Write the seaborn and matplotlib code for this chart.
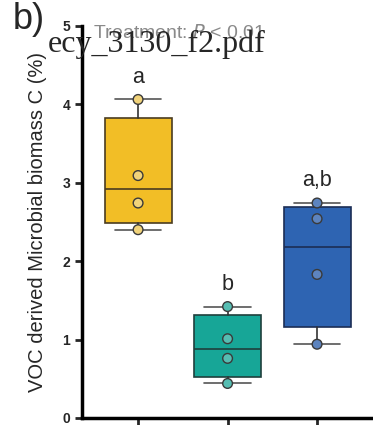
import numpy as np
import pandas as pd
import seaborn as sns
import matplotlib.pyplot as plt

# values (4 replicates per treatment)
groups = ['T1', 'T2', 'T3']
vals_t1 = [4.06, 3.09, 2.74, 2.40]
vals_t2 = [1.42, 1.01, 0.76, 0.44]
vals_t3 = [2.74, 2.54, 1.83, 0.94]
letters = ['a', 'b', 'a,b']
box_colors = ['#F2BE26', '#17A697', '#2E64B2']
point_colors = ['#F1D37A', '#56BDB2', '#5D84BF']
edge_colors = ['#4a3c20', '#1f3f3c', '#1b2d55']

sns.set_style('ticks')
plt.rcParams['font.family'] = ['Liberation Sans', 'DejaVu Sans']

df = pd.DataFrame({
    'group': np.repeat(groups, 4),
    'value': vals_t1 + vals_t2 + vals_t3,
})

fig = plt.figure(figsize=(3.73, 4.25), dpi=100)
ax = fig.add_axes([0.22, 0.0165, 0.78, 0.923])

# box stats with the (n+1)p quartile method, whiskers min to max
stats = []
for g, vals in zip(groups, [vals_t1, vals_t2, vals_t3]):
    q1, q3 = np.percentile(vals, [25, 75], method='weibull')
    stats.append({'med': np.median(vals), 'q1': q1, 'q3': q3,
                  'whislo': min(vals), 'whishi': max(vals), 'label': g})

bp = ax.bxp(stats, positions=[0, 1, 2], widths=0.75, capwidths=0.52,
            patch_artist=True, showfliers=False,
            medianprops=dict(color='#222', linewidth=1.2),
            whiskerprops=dict(color='#333', linewidth=1.2),
            capprops=dict(color='#555', linewidth=1.2))
for patch, c, ec in zip(bp['boxes'], box_colors, edge_colors):
    patch.set_facecolor(c)
    patch.set_edgecolor(ec)
    patch.set_linewidth(1.2)
for line, ec in zip(bp['medians'], edge_colors):
    line.set_color(ec)

sns.stripplot(data=df, x='group', y='value', hue='group', palette=point_colors,
              jitter=False, size=7, linewidth=1, edgecolor='#3a3a3a',
              legend=False, zorder=3, ax=ax)

for i, vals in enumerate([vals_t1, vals_t2, vals_t3]):
    ax.text(i, max(vals) + 0.15, letters[i], ha='center', va='bottom', fontsize=15.5)

ax.set_xlim(-0.626, 2.625)
ax.set_ylim(0, 5)
ax.set_yticks([0, 1, 2, 3, 4, 5])
ax.set_yticklabels(['0', '1', '2', '3', '4', '5'], fontweight='bold', fontsize=10)
ax.set_xticks([0, 1, 2])
ax.set_xticklabels(['', '', ''])
ax.set_xlabel('')
ax.set_ylabel('VOC derived Microbial biomass C (%)', fontsize=14.5, labelpad=11)
ax.tick_params(axis='both', length=5, width=2)
for s in ['left', 'bottom']:
    ax.spines[s].set_linewidth(2.5)
    ax.spines[s].set_color('black')
sns.despine(ax=ax)

fig.text(0.035, 0.995, 'b)', fontsize=26, va='top', ha='left')
fig.text(0.25, 0.922, 'Treatment: $P$ < 0.01', fontsize=14, color='#8a8a8a', va='center')
fig.text(0.128, 0.878, 'ecy_3130_f2.pdf', fontsize=23, family='Liberation Serif',
         va='baseline')

fig.savefig('out.png', dpi=100)
